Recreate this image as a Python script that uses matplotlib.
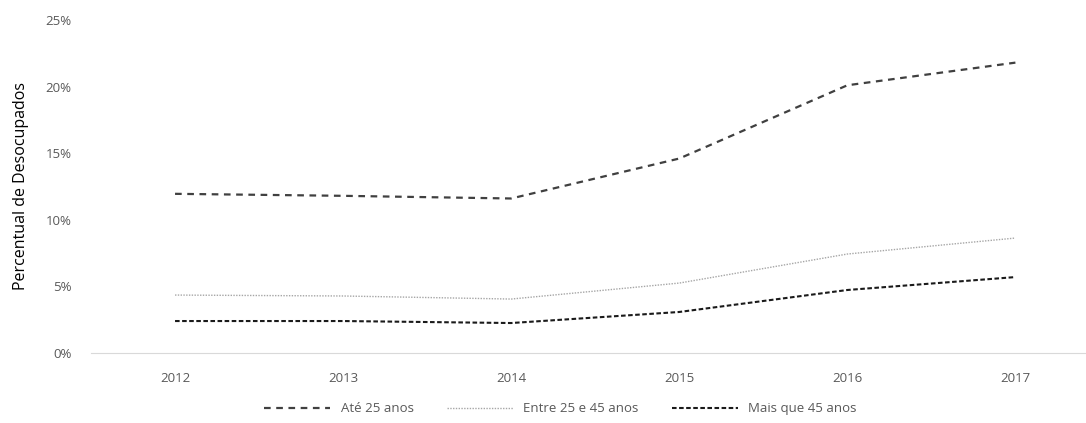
import matplotlib.pyplot as plt
from matplotlib.ticker import FuncFormatter

anos = ["2012", "2013", "2014", "2015", "2016", "2017"]
ate_25 = [11.95, 11.8, 11.6, 14.6, 20.1, 21.8]
entre_25_45 = [4.35, 4.28, 4.05, 5.25, 7.43, 8.63]
mais_45 = [2.4, 2.4, 2.25, 3.08, 4.73, 5.7]

plt.rcParams['font.family'] = ['Open Sans', 'DejaVu Sans']

fig = plt.figure(figsize=(10.86, 4.23), dpi=100)
ax = fig.add_axes([91 / 1086, 1 - 353 / 423, 995 / 1086, 333 / 423])

x = range(len(anos))
ax.plot(x, ate_25, color='#404040', lw=1.6, dashes=(3, 2.5), label='Até 25 anos')
ax.plot(x, entre_25_45, color='#a6a6a6', lw=1.0, dashes=(1, 1), label='Entre 25 e 45 anos')
ax.plot(x, mais_45, color='#1a1a1a', lw=1.5, dashes=(2.2, 1.2), label='Mais que 45 anos')

ax.set_xlim(-0.5, 5.42)
ax.set_ylim(0, 25)
ax.set_yticks([0, 5, 10, 15, 20, 25])
ax.yaxis.set_major_formatter(FuncFormatter(lambda v, p: f"{v:.0f}%"))
ax.set_xticks(list(x))
ax.set_xticklabels(anos)
ax.tick_params(axis='both', length=0, labelsize=9.5, colors='#595959')
ax.tick_params(axis='x', pad=14)
ax.tick_params(axis='y', pad=14)

for s in ['top', 'right', 'left']:
    ax.spines[s].set_visible(False)
ax.spines['bottom'].set_color('#d9d9d9')

ax.set_ylabel('Percentual de Desocupados', fontsize=11.5, color='black', labelpad=12)

fig.legend(loc='lower center', bbox_to_anchor=(0.516, -0.01), ncol=3, frameon=False,
           fontsize=9.5, labelcolor='#595959', handlelength=5, columnspacing=2.5)

fig.savefig('out.png', dpi=100)
